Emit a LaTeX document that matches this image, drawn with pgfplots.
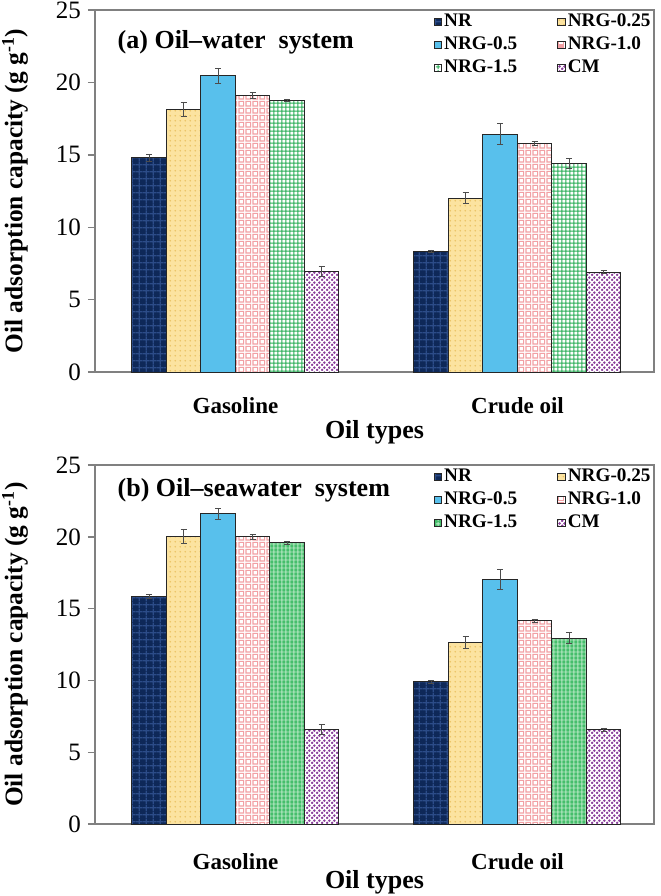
\documentclass[border=0pt]{standalone}
\usepackage{pgfplots}
\pgfplotsset{compat=1.18}
\usepackage{pgfplotstable}
\usepackage{fontspec}
\setmainfont{Liberation Serif}
\usetikzlibrary{patterns}

\definecolor{navy}{HTML}{0E2858}
\definecolor{navyl}{HTML}{2C4C88}
\definecolor{yel}{HTML}{FCE3A0}
\definecolor{yeld}{HTML}{EBC264}
\definecolor{sky}{HTML}{58C0EC}
\definecolor{pink}{HTML}{F2A0A4}
\definecolor{grn}{HTML}{2EAF5A}
\definecolor{grnm}{HTML}{45BE6B}
\definecolor{grnl}{HTML}{B8E8C5}
\definecolor{purp}{HTML}{8A3E9C}

\pgfdeclarepatternformonly{plaid}{\pgfqpoint{0pt}{0pt}}{\pgfqpoint{3.6pt}{3.6pt}}{\pgfqpoint{3.6pt}{3.6pt}}{%
  \pgfsetlinewidth{0.7pt}%
  \pgfpathmoveto{\pgfqpoint{0pt}{1.8pt}}\pgfpathlineto{\pgfqpoint{3.6pt}{1.8pt}}%
  \pgfpathmoveto{\pgfqpoint{1.8pt}{0pt}}\pgfpathlineto{\pgfqpoint{1.8pt}{3.6pt}}%
  \pgfusepath{stroke}}
\pgfdeclarepatternformonly{fgrid}{\pgfqpoint{0pt}{0pt}}{\pgfqpoint{2.2pt}{2.2pt}}{\pgfqpoint{2.2pt}{2.2pt}}{%
  \pgfsetlinewidth{0.5pt}%
  \pgfpathmoveto{\pgfqpoint{0pt}{1.1pt}}\pgfpathlineto{\pgfqpoint{2.2pt}{1.1pt}}%
  \pgfpathmoveto{\pgfqpoint{1.1pt}{0pt}}\pgfpathlineto{\pgfqpoint{1.1pt}{2.2pt}}%
  \pgfusepath{stroke}}
\pgfdeclarepatternformonly{squares}{\pgfqpoint{0pt}{0pt}}{\pgfqpoint{3.4pt}{3.4pt}}{\pgfqpoint{3.4pt}{3.4pt}}{%
  \pgfsetlinewidth{0.6pt}%
  \pgfpathrectangle{\pgfqpoint{0.5pt}{0.5pt}}{\pgfqpoint{2.4pt}{2.4pt}}%
  \pgfusepath{stroke}}
\pgfdeclarepatternformonly{fdots}{\pgfqpoint{0pt}{0pt}}{\pgfqpoint{2.4pt}{2.4pt}}{\pgfqpoint{2.4pt}{2.4pt}}{%
  \pgfpathcircle{\pgfqpoint{1.2pt}{1.2pt}}{0.45pt}%
  \pgfusepath{fill}}
\pgfdeclarepatternformonly{checker}{\pgfqpoint{0pt}{0pt}}{\pgfqpoint{2.6pt}{2.6pt}}{\pgfqpoint{2.6pt}{2.6pt}}{%
  \pgfpathcircle{\pgfqpoint{0.65pt}{0.65pt}}{0.78pt}%
  \pgfpathcircle{\pgfqpoint{1.95pt}{1.95pt}}{0.78pt}%
  \pgfusepath{fill}}

\pgfplotstableread{
x NR eNR A eA B eB C eC D eD CM eCM
0 14.8 0.25 18.15 0.5 20.45 0.55 19.1 0.18 18.78 0.08 6.95 0.35
1 8.35 0.08 12.0 0.38 16.42 0.72 15.8 0.15 14.4 0.36 6.9 0.1
}\topdata
\pgfplotstableread{
x NR eNR A eA B eB C eC D eD CM eCM
0 15.85 0.15 20.05 0.5 21.6 0.37 20.0 0.2 19.6 0.1 6.6 0.35
1 9.9 0.08 12.65 0.4 17.05 0.7 14.15 0.1 12.95 0.4 6.55 0.1
}\botdata

\pgfplotsset{
  sNR/.style={draw=black!85, line width=0.5pt, fill=navy, postaction={pattern=plaid, pattern color=navyl}},
  sA/.style={draw=black!85, line width=0.5pt, fill=yel, postaction={pattern=fdots, pattern color=yeld}},
  sB/.style={draw=black!85, line width=0.5pt, fill=sky},
  sC/.style={draw=black!85, line width=0.5pt, fill=white, postaction={pattern=squares, pattern color=pink}},
  sD/.style={draw=black!85, line width=0.5pt, fill=white, postaction={pattern=fgrid, pattern color=grn}},
  sDb/.style={draw=black!85, line width=0.5pt, fill=grnm, postaction={pattern=fgrid, pattern color=grnl}},
  sCM/.style={draw=black!85, line width=0.5pt, fill=white, postaction={pattern=checker, pattern color=purp}},
  panel/.style={
    scale only axis, width=279.5pt,
    xmin=-0.498, xmax=1.484, ymin=0, ymax=25, ytick={0,5,...,25},
    xtick={0,1}, xticklabels={Gasoline, Crude oil},
    ybar=0pt, bar width=17.25pt,
    axis line style={draw=black!50, line width=0.7pt},
    tick align=outside, major tick length=3.5pt,
    xtick style={draw=none}, ytick style={draw=black!50, line width=0.7pt},
    ytick pos=left, xtick pos=bottom,
    /pgf/number format/assume math mode=true,
    yticklabel style={font=\fontsize{12.5}{14}\selectfont},
    xticklabel style={font=\bfseries\fontsize{11.5}{13}\selectfont, anchor=base},
    xlabel={Oil types},
    xlabel style={at={(axis description cs:0.5,0)}, anchor=base, font=\bfseries\fontsize{13}{15}\selectfont},
    ylabel={Oil adsorption capacity (g g\textsuperscript{-1})},
    ylabel style={at={(axis description cs:-0.143,0.5)}, anchor=center, font=\bfseries\fontsize{12.7}{14}\selectfont},
    legend columns=2, legend cell align=left,
    legend image code/.code={\draw[#1] (0pt,-1.9pt) rectangle (3.8pt,1.9pt);},
    legend style={at={(0.605,1.0)}, anchor=north west, draw=none, fill=none, inner sep=0pt,
      font=\bfseries\fontsize{9.6}{11}\selectfont,
      nodes={inner sep=1pt, text height=7pt, text depth=2.5pt},
      /tikz/every even column/.append style={column sep=19pt}},
    error bars/y dir=both, error bars/y explicit,
    error bars/error bar style={draw=black!70, line width=0.4pt},
    error bars/error mark options={rotate=90, draw=black!70, line width=0.4pt, mark size=1.6pt},
  }
}

\begin{document}
\begin{tikzpicture}
\useasboundingbox (-47.5pt,-262pt) rectangle (282.5pt,186pt);
\begin{axis}[panel, height=181pt, at={(0pt,0pt)}, anchor=south west,
  xticklabel style={yshift=-17pt}, xlabel style={yshift=-33pt}]
\addplot[sNR] table[x=x, y=NR, y error=eNR] {\topdata};
\addplot[sA] table[x=x, y=A, y error=eA] {\topdata};
\addplot[sB] table[x=x, y=B, y error=eB] {\topdata};
\addplot[sC] table[x=x, y=C, y error=eC] {\topdata};
\addplot[sD] table[x=x, y=D, y error=eD] {\topdata};
\addplot[sCM] table[x=x, y=CM, y error=eCM] {\topdata};
\legend{NR, NRG-0.25, NRG-0.5, NRG-1.0, NRG-1.5, CM}
\node[anchor=base west, font=\bfseries\fontsize{13}{15}\selectfont] at (rel axis cs:0.028,0.895) {(a) Oil--water\hspace{0.5em}system};
\end{axis}
\begin{axis}[panel, height=179.5pt, at={(0pt,-226pt)}, anchor=south west,
  xticklabel style={yshift=-19pt}, xlabel style={yshift=-32pt}]
\addplot[sNR] table[x=x, y=NR, y error=eNR] {\botdata};
\addplot[sA] table[x=x, y=A, y error=eA] {\botdata};
\addplot[sB] table[x=x, y=B, y error=eB] {\botdata};
\addplot[sC] table[x=x, y=C, y error=eC] {\botdata};
\addplot[sDb] table[x=x, y=D, y error=eD] {\botdata};
\addplot[sCM] table[x=x, y=CM, y error=eCM] {\botdata};
\legend{NR, NRG-0.25, NRG-0.5, NRG-1.0, NRG-1.5, CM}
\node[anchor=base west, font=\bfseries\fontsize{13}{15}\selectfont] at (rel axis cs:0.028,0.911) {(b) Oil--seawater\hspace{0.5em}system};
\end{axis}
\end{tikzpicture}
\end{document}
